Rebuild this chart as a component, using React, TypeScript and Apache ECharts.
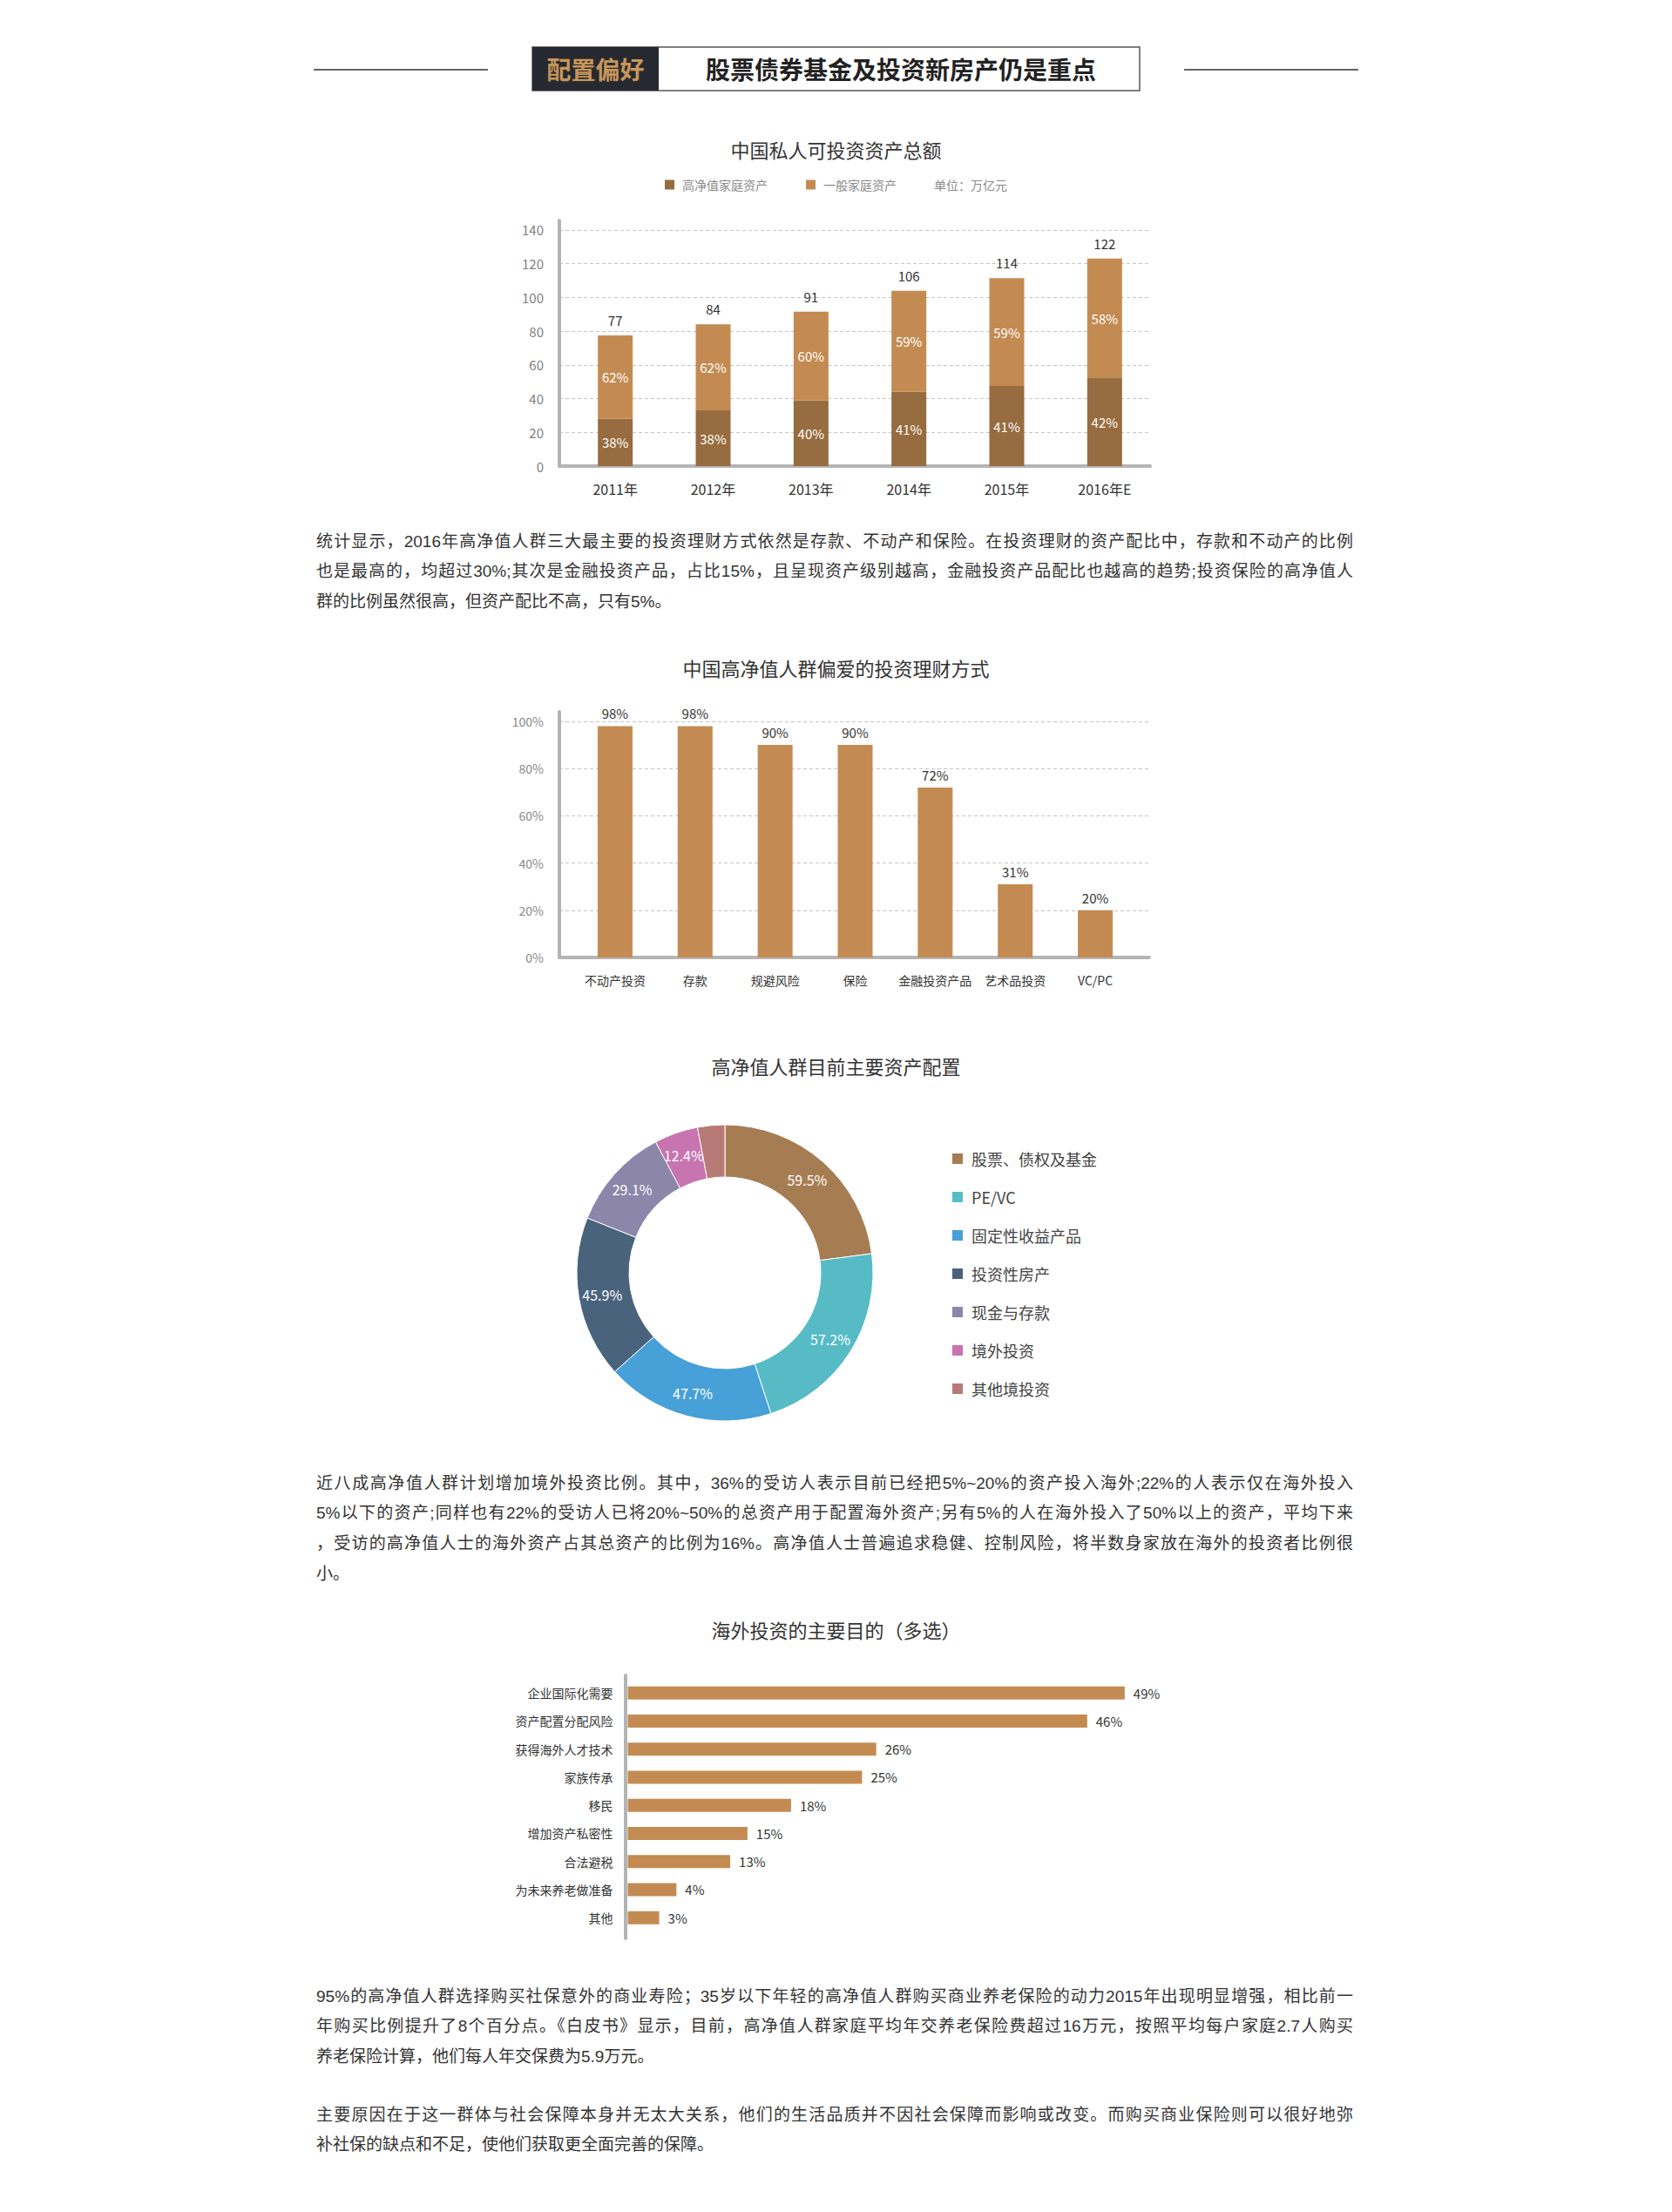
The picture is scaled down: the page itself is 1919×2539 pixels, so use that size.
import React, { useEffect, useRef } from "react";
import * as echarts from "echarts";

// ---------- Chart 1: 中国私人可投资资产总额 ----------
const years = ["2011年", "2012年", "2013年", "2014年", "2015年", "2016年E"];
const highNetWorth = [28, 33, 39, 44, 47.5, 52.5];
const generalHousehold = [49.5, 51, 52.5, 60, 64, 70.5];
const totalLabels = ["77", "84", "91", "106", "114", "122"];
const highPct = ["38%", "38%", "40%", "41%", "41%", "42%"];
const generalPct = ["62%", "62%", "60%", "59%", "59%", "58%"];
const totalAnchor = [0, 0, 0, 0, 0, 0];
const chart1Max = 145.66;
const chart1Interval = 20;

// ---------- Chart 2: 中国高净值人群偏爱的投资理财方式 ----------
const prefCategories = ["不动产投资", "存款", "规避风险", "保险", "金融投资产品", "艺术品投资", "VC/PC"];
const prefValues = [98, 98, 90, 90, 72, 31, 20];
const chart2Max = 104.06;
const chart2Interval = 20;

// ---------- Chart 3: 高净值人群目前主要资产配置 ----------
const allocNames = ["股票、债权及基金", "PE/VC", "固定性收益产品", "投资性房产", "现金与存款", "境外投资", "其他境投资"];
const allocValues = [59.5, 57.2, 47.7, 45.9, 29.1, 12.4, 7.7];
const allocShowLabel = [true, true, true, true, true, true, false];
const allocColors = ["#a67d53", "#57bbc6", "#47a0d7", "#4a637d", "#8c86aa", "#c874b0", "#b77a77"];

// ---------- Chart 4: 海外投资的主要目的（多选） ----------
const purposeNames = ["企业国际化需要", "资产配置分配风险", "获得海外人才技术", "家族传承", "移民", "增加资产私密性", "合法避税", "为未来养老做准备", "其他"];
const purposeLabels = ["49%", "46%", "26%", "25%", "18%", "15%", "13%", "4%", "3%"];
const purposeBarLengths = [49, 45.3, 24.5, 23.1, 16.1, 11.8, 10.1, 4.8, 3.1];

// ---------- Text ----------
const headerTag = "配置偏好";
const headerTitle = "股票债券基金及投资新房产仍是重点";
const titles = ["中国私人可投资资产总额", "中国高净值人群偏爱的投资理财方式", "高净值人群目前主要资产配置", "海外投资的主要目的（多选）"];
const unitText = "单位：万亿元";

const para1 = [
  "统计显示，2016年高净值人群三大最主要的投资理财方式依然是存款、不动产和保险。在投资理财的资产配比中，存款和不动产的比例",
  "也是最高的，均超过30%;其次是金融投资产品，占比15%，且呈现资产级别越高，金融投资产品配比也越高的趋势;投资保险的高净值人",
  "群的比例虽然很高，但资产配比不高，只有5%。",
];
const para2 = [
  "近八成高净值人群计划增加境外投资比例。其中，36%的受访人表示目前已经把5%~20%的资产投入海外;22%的人表示仅在海外投入",
  "5%以下的资产;同样也有22%的受访人已将20%~50%的总资产用于配置海外资产;另有5%的人在海外投入了50%以上的资产，平均下来",
  "，受访的高净值人士的海外资产占其总资产的比例为16%。高净值人士普遍追求稳健、控制风险，将半数身家放在海外的投资者比例很",
  "小。",
];
const para3 = [
  "95%的高净值人群选择购买社保意外的商业寿险；35岁以下年轻的高净值人群购买商业养老保险的动力2015年出现明显增强，相比前一",
  "年购买比例提升了8个百分点。《白皮书》显示，目前，高净值人群家庭平均年交养老保险费超过16万元，按照平均每户家庭2.7人购买",
  "养老保险计算，他们每人年交保费为5.9万元。",
];
const para4 = [
  "主要原因在于这一群体与社会保障本身并无太大关系，他们的生活品质并不因社会保障而影响或改变。而购买商业保险则可以很好地弥",
  "补社保的缺点和不足，使他们获取更全面完善的保障。",
];

const FONT = '"Noto Sans CJK SC", "Noto Sans", sans-serif';
const DARK = "#976c40";
const LIGHT = "#c38b52";
const AXIS_GRAY = "#b4b4b4";
const SPLIT = "#c4c4c4";

const frameX = (gridIndex: number) => ({
  gridIndex,
  type: "value",
  min: 0,
  max: 1,
  axisLine: { show: true, onZero: false, lineStyle: { color: AXIS_GRAY, width: 4 } },
  axisTick: { show: false },
  axisLabel: { show: false },
  splitLine: { show: false },
});

function buildOption(): any {
  const split1 = Array.from({ length: 9 }, (_, i) => (i === 0 || i === 8 ? "transparent" : SPLIT));
  const split2 = Array.from({ length: 7 }, (_, i) => (i === 0 || i === 6 ? "transparent" : SPLIT));
  return {
    animation: false,
    backgroundColor: "#ffffff",
    textStyle: { fontFamily: FONT },
    title: [
      { text: titles[0], left: "center", top: 160, padding: 0, textStyle: { fontSize: 22, color: "#333", fontWeight: "normal", fontFamily: FONT } },
      { text: titles[1], left: "center", top: 755, padding: 0, textStyle: { fontSize: 22, color: "#333", fontWeight: "normal", fontFamily: FONT } },
      { text: titles[2], left: "center", top: 1212, padding: 0, textStyle: { fontSize: 22, color: "#333", fontWeight: "normal", fontFamily: FONT } },
      { text: titles[3], left: "center", top: 1859, padding: 0, textStyle: { fontSize: 22, color: "#333", fontWeight: "normal", fontFamily: FONT } },
      { text: unitText, left: 1072, top: 205, padding: 0, textStyle: { fontSize: 14, color: "#8a8a8a", fontWeight: "normal", fontFamily: FONT } },
    ],
    legend: [
      {
        data: ["高净值家庭资产", "一般家庭资产"],
        left: 763,
        top: 205,
        padding: 0,
        icon: "rect",
        itemWidth: 11,
        itemHeight: 11,
        itemGap: 44,
        selectedMode: false,
        textStyle: { fontSize: 14, color: "#8a8a8a", padding: [0, 0, 0, 4], fontFamily: FONT },
      },
      {
        data: allocNames,
        orient: "vertical",
        left: 1091,
        top: 1321,
        padding: 0,
        icon: "rect",
        itemWidth: 14,
        itemHeight: 14,
        itemGap: 26,
        selectedMode: false,
        textStyle: { fontSize: 18, color: "#444", padding: [0, 0, 0, 4], fontFamily: FONT },
      },
    ],
    grid: [
      { left: 642, top: 253, width: 678, height: 282 },
      { left: 650, top: 253, width: 674, height: 282 },
      { left: 642, top: 817, width: 677, height: 282 },
      { left: 660, top: 817, width: 643, height: 282 },
      { left: 718, top: 1923, width: 10, height: 302 },
      { left: 720.5, top: 1927, width: 582, height: 290.25 },
    ],
    xAxis: [
      frameX(0),
      {
        gridIndex: 1,
        type: "category",
        data: years,
        axisLine: { show: false },
        axisTick: { show: false },
        axisLabel: { margin: 18, fontSize: 16, color: "#333", fontFamily: FONT },
      },
      frameX(2),
      {
        gridIndex: 3,
        type: "category",
        data: prefCategories,
        axisLine: { show: false },
        axisTick: { show: false },
        axisLabel: { margin: 19, fontSize: 14, color: "#333", fontFamily: FONT, interval: 0 },
      },
      { gridIndex: 4, type: "value", min: 0, max: 1, show: false },
      { gridIndex: 5, type: "value", min: 0, max: 50, show: false },
    ],
    yAxis: [
      {
        gridIndex: 0,
        type: "value",
        min: 0,
        max: chart1Max,
        interval: chart1Interval,
        axisLine: { show: true, onZero: false, lineStyle: { color: AXIS_GRAY, width: 4 } },
        axisTick: { show: false },
        axisLabel: {
          margin: 18,
          fontSize: 15,
          color: "#808080",
          fontFamily: FONT,
          formatter: (v: number) => (v > 140 ? "" : String(v)),
        },
        splitLine: { show: true, lineStyle: { color: split1, type: [4, 3], width: 1 } },
      },
      { gridIndex: 1, type: "value", min: 0, max: chart1Max, show: false },
      {
        gridIndex: 2,
        type: "value",
        min: 0,
        max: chart2Max,
        interval: chart2Interval,
        axisLine: { show: true, onZero: false, lineStyle: { color: AXIS_GRAY, width: 4 } },
        axisTick: { show: false },
        axisLabel: {
          margin: 18,
          fontSize: 14,
          color: "#888",
          fontFamily: FONT,
          formatter: (v: number) => (v > 100 ? "" : v + "%"),
        },
        splitLine: { show: true, lineStyle: { color: split2, type: [4, 3], width: 1 } },
      },
      { gridIndex: 3, type: "value", min: 0, max: chart2Max, show: false },
      {
        gridIndex: 4,
        type: "value",
        min: 0,
        max: 1,
        axisLine: { show: true, onZero: false, lineStyle: { color: AXIS_GRAY, width: 4 } },
        axisTick: { show: false },
        axisLabel: { show: false },
        splitLine: { show: false },
      },
      {
        gridIndex: 5,
        type: "category",
        inverse: true,
        data: purposeNames,
        axisLine: { show: false },
        axisTick: { show: false },
        axisLabel: { margin: 17, fontSize: 14, color: "#333", fontFamily: FONT, interval: 0 },
      },
    ],
    series: [
      {
        name: "高净值家庭资产",
        type: "bar",
        xAxisIndex: 1,
        yAxisIndex: 1,
        stack: "asset",
        barWidth: 40,
        data: highNetWorth,
        itemStyle: { color: DARK },
        label: {
          show: true,
          position: "inside",
          color: "#fff",
          fontSize: 15,
          fontFamily: FONT,
          formatter: (p: any) => highPct[p.dataIndex],
        },
      },
      {
        name: "一般家庭资产",
        type: "bar",
        xAxisIndex: 1,
        yAxisIndex: 1,
        stack: "asset",
        barWidth: 40,
        data: generalHousehold,
        itemStyle: { color: LIGHT },
        label: {
          show: true,
          position: "inside",
          color: "#fff",
          fontSize: 15,
          fontFamily: FONT,
          formatter: (p: any) => generalPct[p.dataIndex],
        },
      },
      {
        name: "总额",
        type: "bar",
        xAxisIndex: 1,
        yAxisIndex: 1,
        stack: "asset",
        barWidth: 40,
        data: totalAnchor,
        itemStyle: { color: "transparent" },
        label: {
          show: true,
          position: "top",
          distance: 10,
          color: "#333",
          fontSize: 15,
          fontFamily: FONT,
          formatter: (p: any) => totalLabels[p.dataIndex],
        },
      },
      {
        name: "偏爱方式",
        type: "bar",
        xAxisIndex: 3,
        yAxisIndex: 3,
        barWidth: 40,
        data: prefValues,
        itemStyle: { color: LIGHT },
        label: {
          show: true,
          position: "top",
          distance: 7,
          color: "#333",
          fontSize: 15,
          fontFamily: FONT,
          formatter: (p: any) => p.value + "%",
        },
      },
      {
        name: "资产配置",
        type: "pie",
        center: [832, 1461],
        radius: [110, 170],
        startAngle: 90,
        clockwise: true,
        avoidLabelOverlap: false,
        itemStyle: { borderColor: "#fff", borderWidth: 1 },
        label: {
          show: true,
          position: "inside",
          color: "#fff",
          fontSize: 16,
          fontFamily: FONT,
          formatter: (p: any) => p.value + "%",
        },
        labelLine: { show: false },
        data: allocNames.map((name, i) => ({
          name,
          value: allocValues[i],
          itemStyle: { color: allocColors[i] },
          label: { show: allocShowLabel[i] },
        })),
      },
      {
        name: "海外投资目的",
        type: "bar",
        xAxisIndex: 5,
        yAxisIndex: 5,
        barWidth: 15,
        data: purposeBarLengths,
        itemStyle: { color: LIGHT },
        label: {
          show: true,
          position: "right",
          distance: 10,
          color: "#333",
          fontSize: 15,
          fontFamily: FONT,
          formatter: (p: any) => purposeLabels[p.dataIndex],
        },
      },
    ],
    graphic: [
      { type: "line", shape: { x1: 360, y1: 80, x2: 560, y2: 80 }, style: { stroke: "#333", lineWidth: 1.5 } },
      { type: "line", shape: { x1: 1359, y1: 80, x2: 1559, y2: 80 }, style: { stroke: "#333", lineWidth: 1.5 } },
      { type: "rect", shape: { x: 611, y: 54, width: 697, height: 50 }, style: { fill: "#fff", stroke: "#555", lineWidth: 1.5 } },
      { type: "rect", shape: { x: 611, y: 54, width: 145, height: 50 }, style: { fill: "#262a30" } },
      {
        type: "text",
        x: 683.5,
        y: 79,
        style: {
          text: headerTag,
          fill: "#c8955a",
          fontSize: 28,
          fontWeight: "bold",
          fontFamily: FONT,
          align: "center",
          verticalAlign: "middle",
          textAlign: "center",
          textVerticalAlign: "middle",
        },
      },
      {
        type: "text",
        x: 1034,
        y: 79,
        style: {
          text: headerTitle,
          fill: "#222",
          fontSize: 28,
          fontWeight: "bold",
          fontFamily: FONT,
          align: "center",
          verticalAlign: "middle",
          textAlign: "center",
          textVerticalAlign: "middle",
        },
      },
    ],
  };
}

const PARA_LEFT = 363;
const PARA_WIDTH = 1190;
const LINE_H = 34.8;

function Paragraph({ lines, centerY }: { lines: string[]; centerY: number }) {
  return (
    <div
      style={{
        position: "absolute",
        left: PARA_LEFT,
        top: centerY - LINE_H / 2,
        width: PARA_WIDTH,
        fontFamily: '"Liberation Sans", "Noto Sans CJK SC", sans-serif',
        fontSize: 19,
        color: "#333",
        lineHeight: LINE_H + "px",
      }}
    >
      {lines.map((ln, i) => (
        <div
          key={i}
          style={{
            height: LINE_H,
            textAlign: i === lines.length - 1 ? "left" : "justify",
            textAlignLast: i === lines.length - 1 ? "left" : "justify",
            whiteSpace: "nowrap",
          } as any}
        >
          {ln}
        </div>
      ))}
    </div>
  );
}

export default function App() {
  const ref = useRef<HTMLDivElement>(null);
  useEffect(() => {
    if (!ref.current) return;
    const chart = echarts.init(ref.current, null, { renderer: "svg" });
    chart.setOption(buildOption());
    return () => chart.dispose();
  }, []);
  return (
    <div style={{ position: "absolute", left: 0, top: 0, width: 1919, height: 2539, background: "#fff", overflow: "hidden" }}>
      <div ref={ref} style={{ position: "absolute", left: 0, top: 0, width: 1919, height: 2539 }} />
      <Paragraph lines={para1} centerY={622} />
      <Paragraph lines={para2} centerY={1703} />
      <Paragraph lines={para3} centerY={2292} />
      <Paragraph lines={para4} centerY={2428} />
    </div>
  );
}
